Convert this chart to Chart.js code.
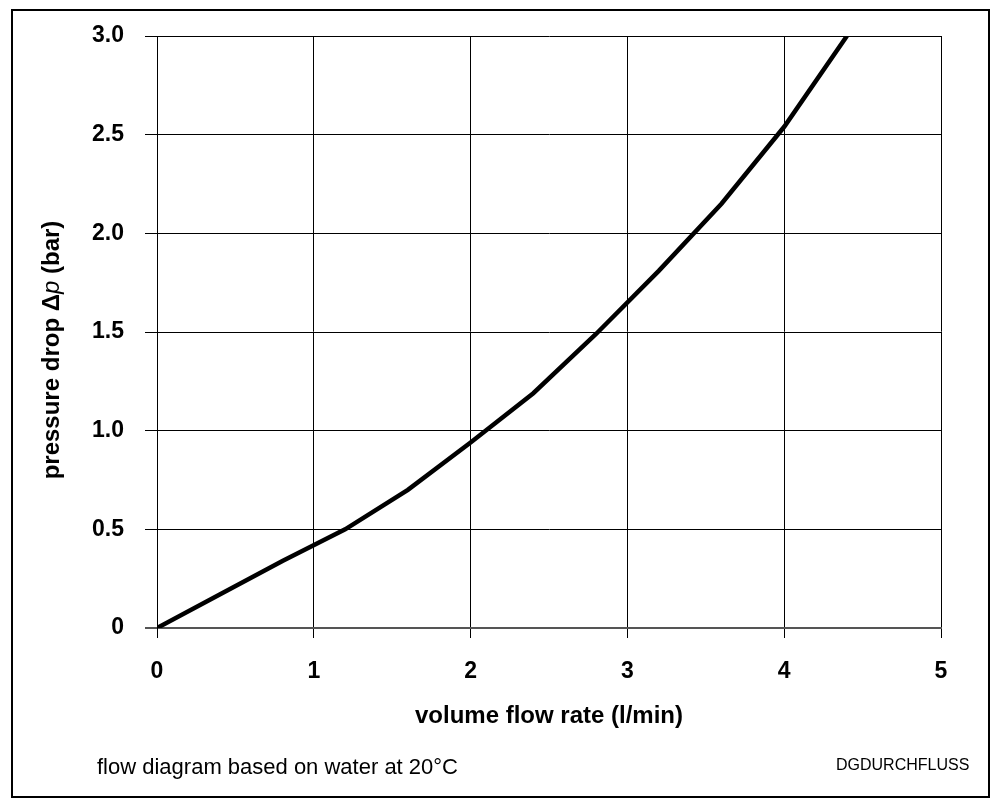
<!DOCTYPE html>
<html>
<head>
<meta charset="utf-8">
<script src="https://cdn.jsdelivr.net/npm/chart.js@4"></script>
<style>
  html, body { margin: 0; padding: 0; background: #fff; }
  #wrap { position: relative; width: 996px; height: 806px; font-family: "Liberation Sans", Arial, sans-serif; }
  #frame { position: absolute; left: 11px; top: 9px; width: 975px; height: 785px; border: 2px solid #000; }
  #ytitle { position: absolute; left: 51px; top: 350px; transform: translate(-50%, -50%) rotate(-90deg);
            white-space: nowrap; font-weight: bold; font-size: 24px; color: #000; }
  #note { position: absolute; left: 97px; top: 754px; font-size: 22px; color: #000; }
  #code { position: absolute; left: 836px; top: 756px; font-size: 16px; color: #000; }
  canvas { position: absolute; left: 0; top: 0; }
</style>
</head>
<body>
<div id="wrap">
  <canvas id="flow-chart" width="996" height="806"></canvas>
  <div id="frame"></div>
  <div id="ytitle">pressure drop &Delta;<i style="font-weight:normal">p</i> (bar)</div>
  <div id="note">flow diagram based on water at 20°C</div>
  <div id="code">DGDURCHFLUSS</div>
</div>
<script>
// values
const flowRate = [0, 0.4, 0.8, 1.2, 1.6, 2.0, 2.4, 2.8, 3.2, 3.6, 4.0, 4.4];
const pressureDrop = [0, 0.17, 0.34, 0.50, 0.70, 0.94, 1.19, 1.49, 1.81, 2.15, 2.54, 3.0];
const xTicks = [0, 1, 2, 3, 4, 5];
const yTicks = [0, 0.5, 1.0, 1.5, 2.0, 2.5, 3.0];

const fontFam = '"Liberation Sans", Arial, sans-serif';

function drawChart() {
  const canvas = document.getElementById("flow-chart");
  if (!canvas) return;
  const ctx = canvas.getContext("2d");

  const points = flowRate.map((x, i) => ({ x: x, y: pressureDrop[i] }));

  new Chart(ctx, {
    type: "line",
    data: {
      datasets: [{
        data: points,
        borderColor: "#000",
        borderWidth: 4.5,
        pointRadius: 0,
        tension: 0,
        fill: false
      }]
    },
    options: {
      responsive: false,
      animation: false,
      layout: { padding: { left: 0, top: 36, right: 55, bottom: 0 } },
      plugins: { legend: { display: false }, tooltip: { enabled: false } },
      scales: {
        x: {
          type: "linear",
          min: xTicks[0],
          max: xTicks[xTicks.length - 1],
          afterBuildTicks: (scale) => { scale.ticks = xTicks.map(v => ({ value: v })); },
          afterFit: (scale) => { scale.height = 178; },
          grid: { color: "#000", lineWidth: 1, tickLength: 10, tickColor: "#000" },
          border: { color: "#555", width: 2 },
          ticks: {
            color: "#000", padding: 20, maxRotation: 0, autoSkip: false,
            font: { family: fontFam, size: 23, weight: "bold" },
            callback: (v) => String(v)
          },
          title: {
            display: true,
            text: "volume flow rate (l/min)",
            color: "#000",
            font: { family: fontFam, size: 24, weight: "bold" },
            padding: { top: 4, bottom: 75 }
          }
        },
        y: {
          min: yTicks[0],
          max: yTicks[yTicks.length - 1],
          afterBuildTicks: (scale) => { scale.ticks = yTicks.map(v => ({ value: v })); },
          afterFit: (scale) => { scale.width = 157; },
          grid: {
            color: (c) => c.tick && c.tick.value === 0 ? "#555" : "#000",
            lineWidth: (c) => c.tick && c.tick.value === 0 ? 2 : 1,
            tickLength: 12
          },
          border: { color: "#000", width: 1 },
          ticks: {
            color: "#000", padding: 21, autoSkip: false,
            font: { family: fontFam, size: 23, weight: "bold" },
            callback: (v) => v === 0 ? "0" : Number(v).toFixed(1)
          }
        }
      }
    }
  });
}

drawChart();
</script>
</body>
</html>
